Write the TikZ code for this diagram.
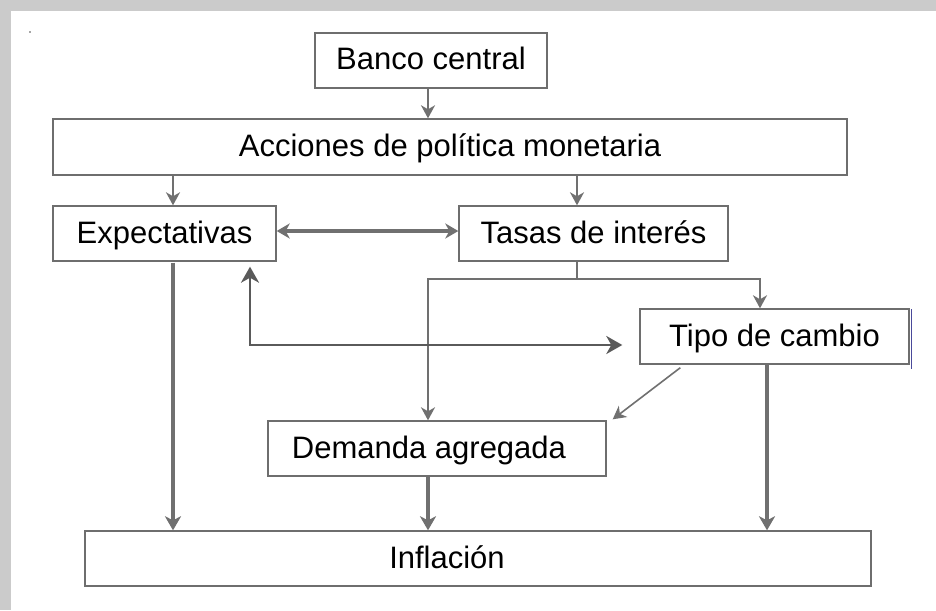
\documentclass[tikz,border=0pt]{standalone}
\usepackage{fontspec}
\setmainfont{Liberation Sans}
\usetikzlibrary{arrows.meta,calc}
\definecolor{bggray}{HTML}{CBCBCB}
\definecolor{boxline}{HTML}{6E6E6E}
\definecolor{arrowgray}{HTML}{707070}
\definecolor{darkarrow}{HTML}{5A5A5A}
\definecolor{edgeblue}{HTML}{4A4A9A}
\begin{document}
\begin{tikzpicture}[x=1pt,y=-1pt,
  box/.style={draw=boxline,line width=1.4pt,fill=white,inner sep=0pt,
    text height=19pt,text depth=0pt,font=\fontsize{31}{36}\selectfont},
  thinarrow/.style={draw=arrowgray,line width=1.8pt,
    -{Stealth[length=13pt,width=14pt,inset=4pt]}},
  thinline/.style={draw=arrowgray,line width=1.8pt},
  thickarrow/.style={draw=arrowgray,line width=3.2pt,
    -{Stealth[length=14pt,width=16pt,inset=4pt]}},
  dblarrow/.style={draw=arrowgray,line width=3.2pt,
    {Stealth[length=13pt,width=15pt,inset=4pt]}-{Stealth[length=13pt,width=15pt,inset=4pt]}},
  darkdbl/.style={draw=darkarrow,line width=2.6pt,
    {Stealth[length=16pt,width=18pt,inset=5pt]}-{Stealth[length=16pt,width=18pt,inset=5pt]}}
]
\useasboundingbox (0,0) rectangle (936,610);
\fill[bggray] (0,0) rectangle (936,610);
\fill[white] (11,11) rectangle (936,610);
\fill[black!70] (30,32) circle (0.8pt);

\node[box,minimum width=232pt,minimum height=55pt] (banco) at (431,60.5) {Banco central};
\node[box,minimum width=794pt,minimum height=56pt] (acc) at (450,147) {Acciones de política monetaria};
\node[box,minimum width=223pt,minimum height=55pt] (exp) at (164.5,233.5) {Expectativas};
\node[box,minimum width=269pt,minimum height=55pt] (tasas) at (593.5,233.5) {Tasas de interés};
\node[box,minimum width=269pt,minimum height=55pt] (tipo) at (774.5,336.5) {Tipo de cambio};
\node[box,minimum width=338pt,minimum height=55pt] (dem) at (437,448.5) {Demanda agregada\kern16pt};
\node[box,minimum width=786pt,minimum height=55pt] (inf) at (478,558.5) {Inflación\kern62pt};

\draw[edgeblue,line width=1pt] ([xshift=2pt,yshift=-1pt]tipo.north east) -- ([xshift=2pt,yshift=-4pt]tipo.south east);

% top arrows
\draw[thinarrow] ([xshift=-3pt]banco.south) -- ([xshift=-3pt]banco.south |- acc.north);
\draw[thinarrow] ([xshift=8.5pt]exp.north |- acc.south) -- ([xshift=8.5pt]exp.north);
\draw[thinarrow] ([xshift=-16.5pt]tasas.north |- acc.south) -- ([xshift=-16.5pt]tasas.north);

% expectativas <-> tasas
\draw[dblarrow] ([yshift=2.5pt]exp.east) -- ([yshift=2.5pt]tasas.west);

% tasas branch
\coordinate (junc) at ([xshift=-16.5pt,yshift=-17pt]tasas.south);
\draw[thinline] ([xshift=-16.5pt]tasas.south) -- (junc);
\draw[thinarrow] (junc) -| ([xshift=-14.5pt]tipo.north);
\draw[thinarrow] (junc) -| ([xshift=-9pt]dem.north);

% tipo <-> expectativas
\draw[darkdbl] ([xshift=85.5pt,yshift=-5pt]exp.south) |- ([xshift=-17pt,yshift=-8.5pt]tipo.west);

% tipo -> demanda
\draw[thinarrow,line width=1.6pt] ([xshift=41pt,yshift=-3pt]tipo.south west) -- ([xshift=6pt,yshift=1pt]dem.north east);

% down to inflacion
\draw[thickarrow] ([xshift=8.5pt,yshift=-1pt]exp.south) -- ([xshift=8.5pt]exp.south |- inf.north);
\draw[thickarrow] ([xshift=-9pt]dem.south) -- ([xshift=-9pt]dem.south |- inf.north);
\draw[thickarrow] ([xshift=-7.5pt]tipo.south) -- ([xshift=-7.5pt]tipo.south |- inf.north);
\end{tikzpicture}
\end{document}
